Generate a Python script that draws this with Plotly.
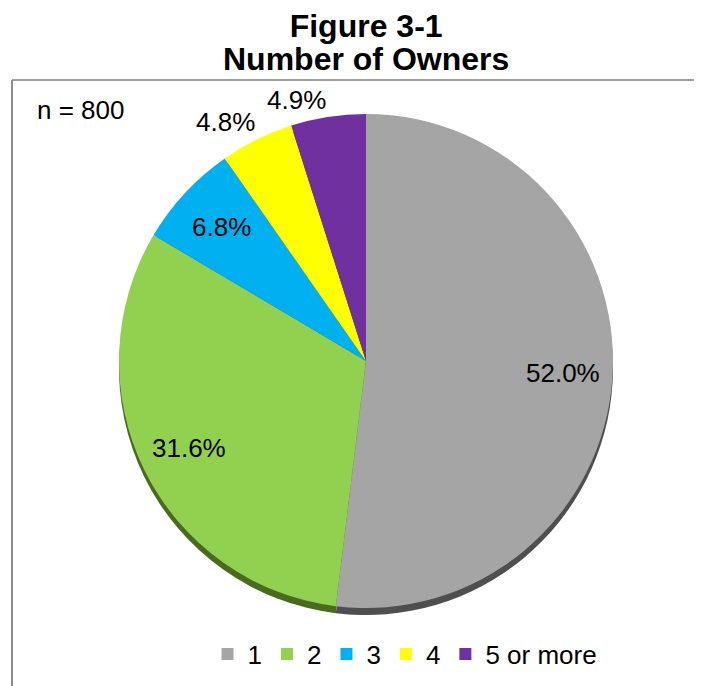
import math
import plotly.graph_objects as go

# ---- data ----
categories = ["1", "2", "3", "4", "5 or more"]
percent_values = [52.0, 31.6, 6.8, 4.8, 4.9]
percent_labels = ["52.0%", "31.6%", "6.8%", "4.8%", "4.9%"]
sample_note = "n = 800"
title_line1 = "Figure 3-1"
title_line2 = "Number of Owners"

# ---- style ----
face_colors = ["#A5A5A5", "#92D050", "#00B0F0", "#FFFF00", "#7030A0"]
rim_colors = ["#4F4F4F", "#4A6B1F", "#006E96", "#8F8F00", "#3E1A5A"]
label_modes = ["inside", "inside", "inside", "outside", "outside"]
FONT = "Liberation Sans, Arial, sans-serif"

W, H = 702, 686
OX, OY = 8, 8          # page body margin compensation
cx, cy, R = 366 - OX, 361 - OY, 247
rim = 7
INSIDE_F = 0.80
OUT_GAP = 0


def fx(px):
    return px / W


def fy(py):
    return 1 - py / H


def px_dom(cx, cy, r):
    return dict(x=[fx(cx - r), fx(cx + r)], y=[fy(cy + r), fy(cy - r)])


fig = go.Figure()

# rim / 3D edge (behind)
fig.add_trace(go.Pie(
    labels=categories, values=percent_values, sort=False,
    direction="clockwise", rotation=0,
    marker=dict(colors=rim_colors, line=dict(width=0)),
    textinfo="none", hoverinfo="skip", showlegend=False,
    domain=px_dom(cx, cy + rim, R),
))

# face
fig.add_trace(go.Pie(
    labels=categories, values=percent_values, sort=False,
    direction="clockwise", rotation=0,
    marker=dict(colors=face_colors, line=dict(width=0)),
    textinfo="none", showlegend=True,
    domain=px_dom(cx, cy, R),
))

# data labels placed from the slice mid-angles
total = sum(percent_values)
annotations = []
cum = 0.0
for val, lab, mode in zip(percent_values, percent_labels, label_modes):
    mid = (cum + val / 2) / total * 2 * math.pi
    cum += val
    s, c = math.sin(mid), math.cos(mid)
    if mode == "inside":
        r = INSIDE_F * R
        annotations.append(dict(
            text=lab, xref="paper", yref="paper",
            x=fx(cx + r * s), y=fy(cy - r * c),
            xanchor="center", yanchor="middle", showarrow=False,
            font=dict(family=FONT, size=26, color="#000000")))
    else:
        r = R + OUT_GAP
        annotations.append(dict(
            text=lab, xref="paper", yref="paper",
            x=fx(cx + r * s), y=fy(cy - r * c),
            xanchor="right" if s < 0 else "left",
            yanchor="bottom" if c > 0 else "top", showarrow=False,
            font=dict(family=FONT, size=26, color="#000000")))

annotations += [
    dict(text="<b><span style='font-size:32px'>" + title_line1 +
              "</span><br><span style='font-size:32px'>" + title_line2 +
              "</span></b>",
         xref="paper", yref="paper",
         x=fx(366 - OX), y=fy(43 - OY), xanchor="center", yanchor="middle",
         showarrow=False, font=dict(family=FONT, size=25, color="#000000")),
    dict(text=sample_note, xref="paper", yref="paper",
         x=fx(35 - OX), y=fy(110 - OY), xanchor="left", yanchor="middle",
         showarrow=False, font=dict(family=FONT, size=26, color="#000000")),
]

fig.update_layout(
    width=W, height=H,
    margin=dict(l=0, r=0, t=0, b=0),
    paper_bgcolor="white", plot_bgcolor="white",
    font=dict(family=FONT, color="#000000"),
    showlegend=True,
    legend=dict(orientation="h", x=fx(405 - OX), xanchor="center",
                y=fy(654 - OY), yanchor="middle",
                font=dict(family=FONT, size=26, color="#000000"),
                traceorder="normal", bgcolor="rgba(0,0,0,0)"),
    shapes=[
        dict(type="line", xref="paper", yref="paper",
             x0=fx(12 - OX), x1=1.02, y0=fy(80 - OY), y1=fy(80 - OY),
             line=dict(color="#A0A0A0", width=2)),
        dict(type="line", xref="paper", yref="paper",
             x0=fx(12 - OX), x1=fx(12 - OX), y0=fy(80 - OY), y1=-0.02,
             line=dict(color="#8C8C8C", width=2)),
    ],
    annotations=annotations,
)

fig.write_html("out.html")
